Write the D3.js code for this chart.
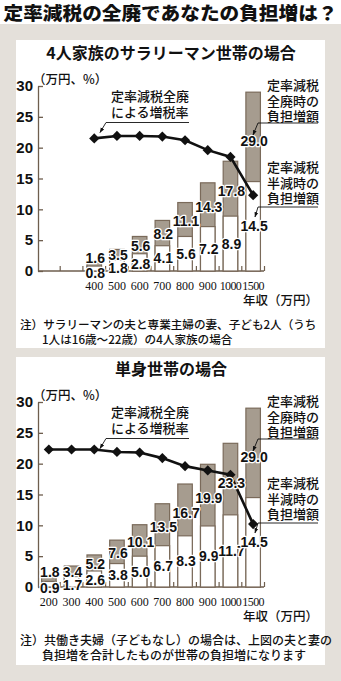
<!DOCTYPE html>
<html><head><meta charset="utf-8">
<script src="https://cdn.jsdelivr.net/npm/d3@7"></script>
<style>
html,body{margin:0;padding:0;background:#e4e0da;}
svg{display:block;}
</style></head><body>
<svg id="c" width="341" height="681"></svg>
<script>
// ---- data ----
const mainTitle = "定率減税の全廃であなたの負担増は？";
const categories = ["200","300","400","500","600","700","800","900","1000","1500"];
const yTicks = [0,5,10,15,20,25,30];

const family4Title = "4人家族のサラリーマン世帯の場合";
const family4Incomes = ["400","500","600","700","800","900","1000","1500"];
const family4Full = [1.6,3.5,5.6,8.2,11.1,14.3,17.8,29.0];
const family4Half = [0.8,1.8,2.8,4.1,5.6,7.2,8.9,14.5];
const family4Rate = [21.5,21.9,21.9,21.8,21.2,19.6,18.5,12.3];
const family4Notes = ["注）サラリーマンの夫と専業主婦の妻、子ども2人（うち","1人は16歳～22歳）の4人家族の場合"];

const singleTitle = "単身世帯の場合";
const singleIncomes = ["200","300","400","500","600","700","800","900","1000","1500"];
const singleFull = [1.8,3.4,5.2,7.6,10.1,13.5,16.7,19.9,23.3,29.0];
const singleHalf = [0.9,1.7,2.6,3.8,5.0,6.7,8.3,9.9,11.7,14.5];
const singleRate = [22.3,22.3,22.3,21.9,21.8,20.9,19.6,18.9,18.2,10.2];
const singleNotes = ["注）共働き夫婦（子どもなし）の場合は、上図の夫と妻の","負担増を合計したものが世帯の負担増になります"];

const yUnitLabel = "（万円、%）";
const xTitle = "年収（万円）";
const rateAnnot = ["定率減税全廃","による増税率"];
const fullAnnot = ["定率減税","全廃時の","負担増額"];
const halfAnnot = ["定率減税","半減時の","負担増額"];

// ---- style ----
const JP = "'Noto Sans CJK JP','Noto Sans',sans-serif";
const NUM = "'Liberation Sans Narrow','Liberation Sans',Arial,sans-serif";
const SERIF = "'Liberation Serif','DejaVu Serif',serif";
const axisCol = "#6e5e4e", barStroke = "#7a6a5a", barFill = "#a69c8f";

const svg = d3.select("#c");
svg.append("rect").attr("x",0).attr("y",0).attr("width",341).attr("height",24).attr("fill","#fff");
svg.append("text").attr("x",170.5).attr("y",20).attr("text-anchor","middle")
  .attr("font-size",18.5).attr("font-weight",900).attr("font-family",JP).attr("fill","#111")
  .attr("textLength",334).attr("lengthAdjust","spacingAndGlyphs").text(mainTitle);

svg.append("defs").append("marker").attr("id","arr").attr("viewBox","0 0 10 10")
  .attr("refX",9).attr("refY",5).attr("markerWidth",6).attr("markerHeight",6).attr("orient","auto")
  .append("path").attr("d","M0,1.5L10,5L0,8.5Z").attr("fill","#111");

function drawPanel(cfg){
  const p0 = cfg.zero; // y of zero line
  svg.append("rect").attr("x",16).attr("y",cfg.panelTop).attr("width",309).attr("height",cfg.panelH).attr("fill","#fff");
  const g = svg.append("g");
  g.append("text").attr("x",171).attr("y",p0-212).attr("text-anchor","middle")
    .attr("font-size",16).attr("font-weight",700).attr("font-family",JP).attr("fill","#111").text(cfg.title);

  const x = d3.scaleBand().domain(categories).range([37.5,264.5]).paddingInner(0.36).paddingOuter(0.18);
  const y = d3.scaleLinear().domain([0,30]).range([p0, p0-185]);
  const bw = x.bandwidth();

  // y axis
  const ya = g.append("g").attr("transform","translate(38,0)")
    .call(d3.axisLeft(y).tickValues(yTicks).tickSize(-5).tickSizeOuter(0).tickPadding(5));
  ya.selectAll("path,line").attr("stroke",axisCol).attr("stroke-width",1.3);
  ya.selectAll("text").attr("font-family",NUM).attr("font-weight",700).attr("font-size",15).attr("fill","#111");
  g.append("text").attr("x",33).attr("y",p0-187).attr("font-size",12.5).attr("font-weight",500)
    .attr("font-family",JP).attr("fill","#111").text(yUnitLabel);

  // x axis
  const xa = g.append("g").attr("transform",`translate(0,${p0})`)
    .call(d3.axisBottom(x).tickValues(cfg.labels).tickSize(0).tickPadding(10));
  xa.select("path").attr("stroke",axisCol).attr("stroke-width",1.3).attr("d",`M38,0H264`);
  xa.selectAll("text").attr("font-family",SERIF).attr("font-size",12).attr("fill","#111")
    .attr("letter-spacing",d=>d.length>3 ? -0.6 : 0);
  const step = x.step();
  g.selectAll(".bt").data(d3.range(1,categories.length+1)).enter().append("line")
    .attr("x1",i=>x.range()[0]+i*step).attr("x2",i=>x.range()[0]+i*step)
    .attr("y1",p0).attr("y2",p0-5).attr("stroke",axisCol).attr("stroke-width",1.2);
  g.append("text").attr("x",318).attr("y",p0+34).attr("text-anchor","end").attr("font-size",12.5)
    .attr("font-weight",500).attr("font-family",JP).attr("fill","#111").text(xTitle);

  const rows = cfg.labels.map((c,i)=>({c, full:cfg.full[i], half:cfg.half[i], rate:cfg.rate[i]}));
  // bars
  g.selectAll(".bf").data(rows).enter().append("rect")
    .attr("x",d=>x(d.c)).attr("width",bw).attr("y",d=>y(d.full)).attr("height",d=>y(0)-y(d.full))
    .attr("fill",barFill).attr("stroke",barStroke).attr("stroke-width",1.2);
  g.selectAll(".bh").data(rows).enter().append("rect")
    .attr("x",d=>x(d.c)).attr("width",bw).attr("y",d=>y(d.half)).attr("height",d=>y(0)-y(d.half))
    .attr("fill","#fff").attr("stroke",barStroke).attr("stroke-width",1.2);

  // rate line
  const line = d3.line().x(d=>x(d.c)+bw/2).y(d=>y(d.rate));
  g.append("path").datum(rows).attr("d",line).attr("fill","none").attr("stroke","#111").attr("stroke-width",2.6);
  g.selectAll(".dm").data(rows).enter().append("path")
    .attr("d",d3.symbol(d3.symbolSquare,52)())
    .attr("transform",d=>`translate(${x(d.c)+bw/2},${y(d.rate)}) rotate(45)`).attr("fill","#111");

  // value labels
  const lab = (sel)=>sel.attr("text-anchor","middle").attr("dominant-baseline","central")
    .attr("font-family",NUM).attr("font-weight",700).attr("font-size",14).attr("fill","#111")
    .attr("stroke","#fff").attr("stroke-width",2.5).attr("paint-order","stroke").attr("stroke-linejoin","round");
  g.selectAll(".lf").data(rows).enter().append("text").call(lab)
    .attr("x",d=>x(d.c)+bw/2+1)
    .attr("y",d=>{const top=y(d.full), h=y(d.half)-y(d.full); return h<8 ? top-3.5 : top+0.55*h;})
    .text(d=>d.full.toFixed(1));
  g.selectAll(".lh").data(rows).enter().append("text").call(lab)
    .attr("x",d=>x(d.c)+bw/2+1)
    .attr("y",d=>{const h=y(0)-y(d.half); return y(d.half)+h/2+Math.max(0,5.5-h/4);})
    .text(d=>d.half.toFixed(1));

  // annotations
  const ann = (lines, x0, y0, dy)=>{
    lines.forEach((t,i)=>g.append("text").attr("x",x0).attr("y",y0+i*dy).attr("font-size",13)
      .attr("font-weight",500).attr("font-family",JP).attr("fill","#111").text(t));
  };
  const leader = (x1,y1,x2,y2,ux)=>{
    g.append("path").attr("d",`M${ux},${y1}H${x1}L${x2},${y2}`).attr("fill","none")
      .attr("stroke","#111").attr("stroke-width",0.9).attr("marker-end","url(#arr)");
  };
  ann(rateAnnot, 111, p0-170, 16);
  leader(106, p0-148.5, 100, p0-138.5, 189);
  ann(fullAnnot, 267, p0-181, 15.5);
  leader(258, p0-148, 253, p0-136, 318);
  ann(halfAnnot, 267, p0-99, 15.5);
  leader(258, p0-64, 255, p0-54, 318);

  // notes
  g.append("text").attr("x",20).attr("y",p0+58).attr("font-size",cfg.noteSize).attr("font-weight",500)
    .attr("font-family",JP).attr("fill","#111").text(cfg.notes[0]);
  g.append("text").attr("x",42).attr("y",p0+73).attr("font-size",cfg.noteSize).attr("font-weight",500)
    .attr("font-family",JP).attr("fill","#111").text(cfg.notes[1]);
}

drawPanel({zero:271, panelTop:40, panelH:308, title:family4Title, labels:family4Incomes,
  full:family4Full, half:family4Half, rate:family4Rate, notes:family4Notes, noteSize:11.6});
drawPanel({zero:587, panelTop:357, panelH:308, title:singleTitle, labels:singleIncomes,
  full:singleFull, half:singleHalf, rate:singleRate, notes:singleNotes, noteSize:12});
</script>
</body></html>
